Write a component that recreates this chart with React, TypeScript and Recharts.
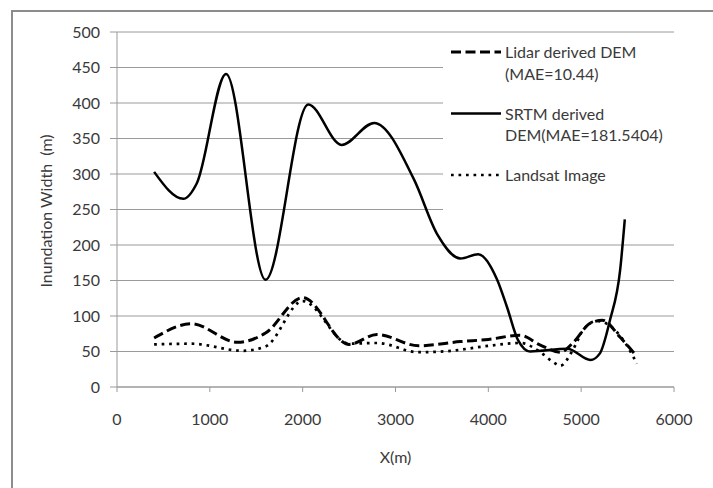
import { LineChart, Line, XAxis, YAxis, CartesianGrid, Legend, Label } from "recharts";

const xTicks = [0, 1000, 2000, 3000, 4000, 5000, 6000];
const yTicks = [0, 50, 100, 150, 200, 250, 300, 350, 400, 450, 500];

const lidarX = [400, 800, 1300, 1600, 2000, 2500, 2800, 3250, 3700, 4000, 4340, 4560, 4780, 4910, 5100, 5230, 5420, 5600];
const lidarY = [69, 89, 63, 76, 126, 60, 74, 58, 64, 67, 73, 59, 49, 62, 90, 94, 70, 43];

const srtmX = [400, 715, 860, 1175, 1600, 2060, 2420, 2770, 3200, 3450, 3700, 3890, 4095, 4200, 4320, 4450, 4850, 5100, 5200, 5310, 5420, 5470];
const srtmY = [303, 265, 287, 441, 151, 398, 341, 372, 292, 215, 181, 187, 151, 113, 66, 50, 54, 38, 47, 94, 165, 236];

const landsatX = [400, 800, 1350, 1600, 2000, 2500, 2800, 3250, 3600, 4000, 4350, 4560, 4700, 4775, 4910, 5020, 5170, 5490, 5600];
const landsatY = [60, 61, 51, 57, 121, 61, 62, 49, 51, 58, 62, 49, 35, 30, 52, 80, 93, 59, 33];

const seriesNames = [
  "Lidar derived DEM\n(MAE=10.44)",
  "SRTM derived\nDEM(MAE=181.5404)",
  "Landsat Image",
];

const toPoints = (xs: number[], ys: number[]) => xs.map((x, i) => ({ x, y: ys[i] }));

const lidar = toPoints(lidarX, lidarY);
const srtm = toPoints(srtmX, srtmY);
const landsat = toPoints(landsatX, landsatY);

const TEXT = "#3a3a3a";
const GRID = "#9a9a9a";
const FONT = "Lato, 'Open Sans', sans-serif";

function LegendBox({ payload }: any) {
  const items = [...(payload || [])].sort(
    (a: any, b: any) => seriesNames.indexOf(a.value) - seriesNames.indexOf(b.value)
  );
  let y = 20;
  const rows: any[] = [];
  items.forEach((entry: any, i: number) => {
    const lines = String(entry.value).split("\n");
    const p = entry.payload || {};
    rows.push(
      <line
        key={`s${i}`}
        x1={8}
        x2={58}
        y1={y - 6}
        y2={y - 6}
        stroke="#000"
        strokeWidth={p.strokeWidth}
        strokeDasharray={p.strokeDasharray}
      />
    );
    lines.forEach((t, j) => {
      rows.push(
        <text key={`t${i}-${j}`} x={62} y={y + j * 21.5} fill={TEXT} fontSize={16} fontFamily={FONT}>
          {t}
        </text>
      );
    });
    y += lines.length * 21.5 + 18.5;
  });
  return (
    <svg width={270} height={176} style={{ display: "block" }}>
      {rows}
    </svg>
  );
}

export default function App() {
  return (
    <div style={{ position: "relative", width: 713, height: 488, overflow: "hidden", background: "#fff", fontFamily: FONT }}>
      <style>{`body{margin:0}`}</style>
      <div
        style={{
          position: "absolute",
          left: 11,
          top: 10,
          width: 720,
          height: 500,
          border: "2px solid #8c8c8c",
          boxSizing: "border-box",
        }}
      />
      <LineChart width={713} height={488} margin={{ top: 32, right: 39, bottom: 0, left: 0 }} style={{ position: "absolute", left: 0, top: 0 }}>
        <CartesianGrid horizontal vertical={false} stroke={GRID} strokeWidth={1} />
        <XAxis
          type="number"
          dataKey="x"
          domain={[0, 6000]}
          ticks={xTicks}
          interval={0}
          height={101}
          tickSize={5}
          tickMargin={22}
          stroke={GRID}
          tick={{ fill: TEXT, fontSize: 16, fontFamily: FONT }}
          allowDataOverflow
        >
          <Label
            content={() => (
              <text x={395.5} y={463} textAnchor="middle" fill={TEXT} fontSize={16} fontFamily={FONT}>
                X(m)
              </text>
            )}
          />
        </XAxis>
        <YAxis
          type="number"
          domain={[0, 500]}
          ticks={yTicks}
          interval={0}
          width={117}
          tickSize={7}
          tickMargin={10}
          stroke={GRID}
          tick={{ fill: TEXT, fontSize: 16, fontFamily: FONT }}
        >
          <Label
            content={() => (
              <text
                x={52}
                y={211}
                transform="rotate(-90, 52, 211)"
                textAnchor="middle"
                fill={TEXT}
                fontSize={16}
                fontFamily={FONT}
                style={{ whiteSpace: "pre" }}
              >
                {"Inundation Width  (m)"}
              </text>
            )}
          />
        </YAxis>
        <Line
          data={lidar}
          dataKey="y"
          name={seriesNames[0]}
          type="monotone"
          stroke="#000"
          strokeWidth={3}
          strokeDasharray="10 4.5"
          dot={false}
          activeDot={false}
          isAnimationActive={false}
        />
        <Line
          data={srtm}
          dataKey="y"
          name={seriesNames[1]}
          type="monotone"
          stroke="#000"
          strokeWidth={2.5}
          dot={false}
          activeDot={false}
          isAnimationActive={false}
        />
        <Line
          data={landsat}
          dataKey="y"
          name={seriesNames[2]}
          type="monotone"
          stroke="#000"
          strokeWidth={2.7}
          strokeDasharray="2.7 4.8"
          dot={false}
          activeDot={false}
          isAnimationActive={false}
        />
        <Legend
          layout="vertical"
          align="center"
          verticalAlign="middle"
          content={<LegendBox />}
          wrapperStyle={{
            position: "absolute",
            left: 443,
            top: 38,
            width: 270,
            height: 176,
            background: "#fff",
          }}
        />
      </LineChart>
    </div>
  );
}
